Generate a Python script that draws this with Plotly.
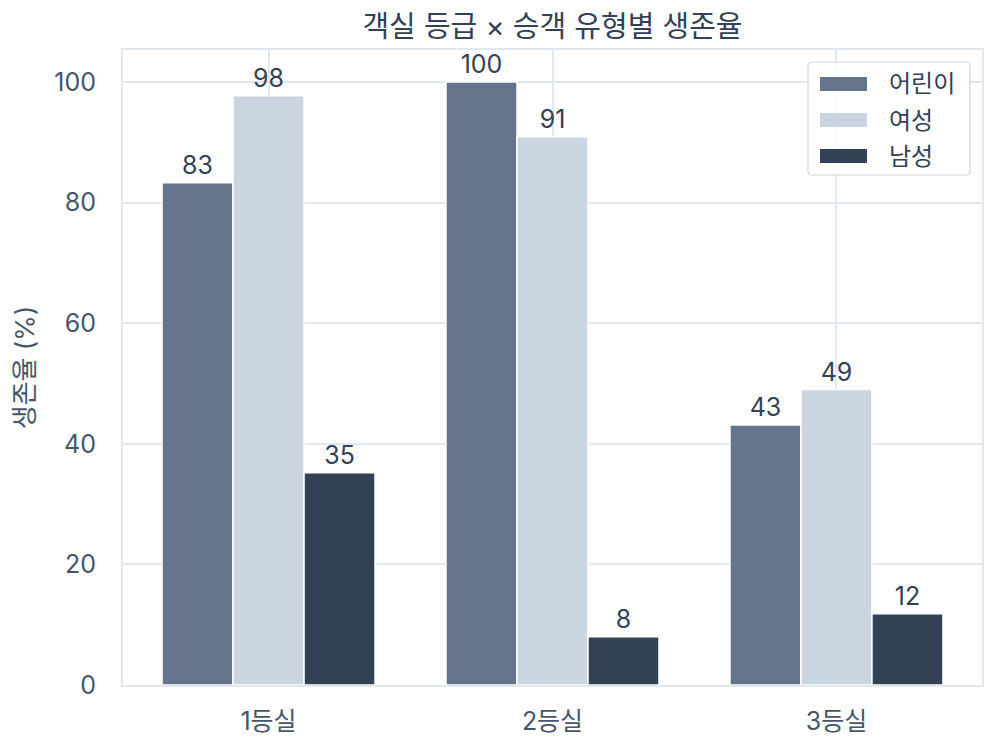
import plotly.graph_objects as go

categories = ["1등실", "2등실", "3등실"]
series_names = ["어린이", "여성", "남성"]
children = [83.3, 100.0, 43.1]
women = [97.7, 90.9, 49.0]
men = [35.2, 8.0, 11.8]
series_values = [children, women, men]
colors = ["#64748b", "#cbd5e1", "#334155"]

FONT = "Inter, Noto Sans CJK KR, sans-serif"
TXT = "#334155"
TICK = "#475569"

W, H = 999, 744
L, R, T, B = 123, 982, 50, 685

def px(x):
    return (x - L) / (R - L)

def py(y):
    return (B - y) / (B - T)

fig = go.Figure()
for name, vals, col in zip(series_names, series_values, colors):
    fig.add_trace(go.Bar(
        x=categories, y=vals, name=name,
        marker=dict(color=col, line=dict(color="white", width=1.5)),
        texttemplate="%{y:.0f}", textposition="outside",
        textfont=dict(size=25, color=TXT, family=FONT),
        cliponaxis=False, showlegend=False,
    ))

def rounded_rect(x0, y0, x1, y1, r):
    def P(x, y):
        return f"{px(x):.5f},{py(y):.5f}"
    return (f"M {P(x0 + r, y0)} L {P(x1 - r, y0)} Q {P(x1, y0)} {P(x1, y0 + r)} "
            f"L {P(x1, y1 - r)} Q {P(x1, y1)} {P(x1 - r, y1)} "
            f"L {P(x0 + r, y1)} Q {P(x0, y1)} {P(x0, y1 - r)} "
            f"L {P(x0, y0 + r)} Q {P(x0, y0)} {P(x0 + r, y0)} Z")

shapes = []
annotations = []
shapes.append(dict(type="path", xref="paper", yref="paper",
                   path=rounded_rect(808, 62, 970, 175, 4),
                   line=dict(color="#d4d4d4", width=1.2), fillcolor="rgba(255,255,255,0.85)",
                   layer="above"))
for i, (name, col) in enumerate(zip(series_names, colors)):
    cy = 84 + 36 * i
    shapes.append(dict(type="rect", xref="paper", yref="paper",
                       x0=px(820), x1=px(867), y0=py(cy + 7), y1=py(cy - 7),
                       line=dict(width=0), fillcolor=col, layer="above"))
    annotations.append(dict(xref="paper", yref="paper", x=px(887), y=py(cy),
                            xanchor="left", yanchor="middle", text=name, showarrow=False,
                            font=dict(size=24, color=TXT, family=FONT)))

fig.update_layout(
    width=W, height=H, autosize=False,
    margin=dict(l=L, r=W - R, t=T, b=H - B, pad=0, autoexpand=False),
    paper_bgcolor="white", plot_bgcolor="white",
    barmode="group", bargap=0.25, bargroupgap=0,
    font=dict(family=FONT, color=TXT, size=24),
    title=dict(text="객실 등급 × 승객 유형별 생존율", x=(L + R) / 2 / W, xanchor="center",
               y=1 - 27 / H, yanchor="middle", font=dict(size=29, color=TXT, family=FONT),
               automargin=False),
    shapes=shapes, annotations=annotations,
)
fig.update_xaxes(range=[-0.5125, 2.5125], showline=True, mirror=True, linecolor="#e2e8f0",
                 linewidth=2, showgrid=True, gridcolor="#e2e8f0", gridwidth=1.5,
                 ticks="", ticklabelstandoff=13, tickfont=dict(size=25, color=TICK),
                 automargin=False)
fig.update_yaxes(range=[0, 105.3], showline=True, mirror=True, linecolor="#e2e8f0",
                 linewidth=2, showgrid=True, gridcolor="#e2e8f0", gridwidth=1.5,
                 tickvals=[0, 20, 40, 60, 80, 100], ticks="", ticklabelstandoff=20,
                 tickfont=dict(size=25, color=TICK), zeroline=False, automargin=False,
                 title=dict(text="생존율 (%)", standoff=12, font=dict(size=26, color=TICK)))

fig.write_html("out.html", post_script="document.body.style.margin='0';",
               config={"displayModeBar": False})
